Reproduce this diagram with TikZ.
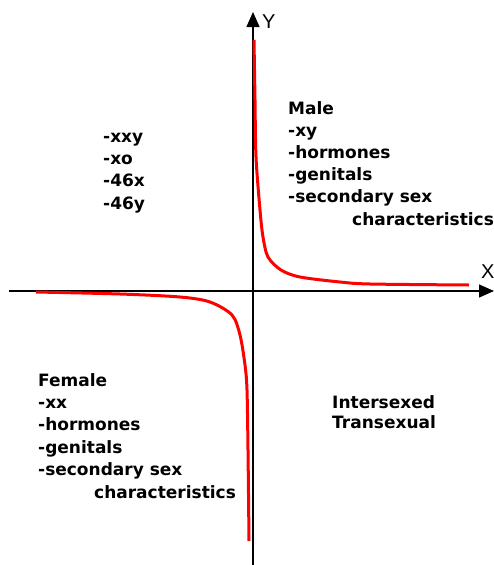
\documentclass[tikz,border=0pt]{standalone}
\usepackage{fontspec}
\setmainfont{DejaVu Sans}
\newfontfamily\axisfont{Liberation Sans}
\usetikzlibrary{arrows.meta}
\definecolor{CurveRed}{RGB}{255,0,0}

\begin{document}
\begin{tikzpicture}[x=1pt,y=-1pt,
  axis/.style={line width=1.3pt,-{Triangle[length=15pt,width=13pt]}},
  curve/.style={CurveRed,line width=3pt},
  lbl/.style={anchor=base west,inner sep=0pt,align=left,
    font=\bfseries\fontsize{17}{22.2}\selectfont},
  axlbl/.style={anchor=base west,inner sep=0pt,font=\axisfont\fontsize{20}{20}\selectfont}]
  \fill[white] (0,0) rectangle (494,565);
  \useasboundingbox (0,0) rectangle (494,565);
  % axes
  \coordinate (xl) at (9,291);
  \coordinate (xr) at (494,291);
  \coordinate (yb) at (253,565);
  \coordinate (yt) at (253,12);
  \draw[axis] (xl) -- (xr);
  \draw[axis] (yb) -- (yt);
  \node[axlbl] (ylab) at (262,28) {Y};
  \node[axlbl] (xlab) at (481,278) {X};
  % the two branches
  \draw[curve] plot[smooth,tension=.5] coordinates {(254,40) (255,100) (256,157)
    (260,210) (263,237) (268,257) (281,270) (300,277) (340,282) (370,284) (469,285)};
  \draw[curve] plot[smooth,tension=.5] coordinates {(36,292) (120,294) (180,297)
    (210,302) (232,315) (240,335) (245,365) (247,390) (248,450) (249,541)};
  % quadrant texts (base = last line)
  \node[lbl] (male) at (288,225) {Male\\-xy\\-hormones\\-genitals\\-secondary sex\\
    \hspace*{64pt}characteristics};
  \node[lbl] (chrom) at (103,209) {-xxy\\-xo\\-46x\\-46y};
  \node[lbl,font=\bfseries\fontsize{17}{22.4}\selectfont] (female) at (38,498)
    {Female\\-xx\\-hormones\\-genitals\\-secondary sex\\
    \hspace*{56pt}characteristics};
  \node[lbl,font=\bfseries\fontsize{17}{20}\selectfont] (inter) at (332,428) {Intersexed\\Transexual};
\end{tikzpicture}
\end{document}
